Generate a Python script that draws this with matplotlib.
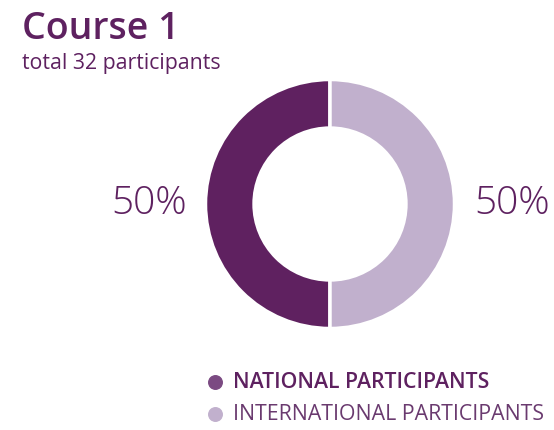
import matplotlib
matplotlib.use("Agg")
import matplotlib.pyplot as plt

plt.rcParams['font.family'] = ['Open Sans', 'DejaVu Sans']

title = "Course 1"
subtitle = "total 32 participants"
categories = ["NATIONAL PARTICIPANTS", "INTERNATIONAL PARTICIPANTS"]
counts = [16, 16]
colors = ["#5f2160", "#c1b0cd"]
legend_dots = ["#7b4a82", "#c1b0cd"]
text_dark = "#5e2160"

W, H = 554, 430
fig = plt.figure(figsize=(W / 100, H / 100), dpi=100)
ax = fig.add_axes([0, 0, 1, 1])
ax.axis("off")

cx, cy, r = 330, H - 204, 124.5
wedges, _ = ax.pie(counts, colors=colors, startangle=90, counterclock=True,
                   center=(cx, cy), radius=r,
                   wedgeprops=dict(width=r * 0.39, edgecolor="white", linewidth=2.5))
ax.set_aspect("equal")
ax.set_xlim(0, W)
ax.set_ylim(0, H)

total = sum(counts)
pcts = [round(100 * c / total) for c in counts]
ax.text(149, cy, f"{pcts[0]}%", ha="center", va="center", fontsize=28,
        color=text_dark, fontweight="light")
ax.text(512, cy, f"{pcts[1]}%", ha="center", va="center", fontsize=28,
        color=text_dark, fontweight="light")

fig.text(22 / W, 1 - 29 / H, title, ha="left", va="center", fontsize=27,
         fontweight="semibold", color=text_dark)
fig.text(22 / W, 1 - 63 / H, subtitle, ha="left", va="center", fontsize=15.3,
         color=text_dark)

ys = [382, 414]
weights = ["semibold", "normal"]
tcols = [text_dark, "#6a3a6f"]
for lab, y, dc, w, tc in zip(categories, ys, legend_dots, weights, tcols):
    ax.scatter([215], [H - y], s=95, color=dc, zorder=3)
    ax.text(233, H - y, lab, ha="left", va="center", fontsize=15.3,
            fontweight=w, color=tc)

fig.savefig("out.png", dpi=100)
